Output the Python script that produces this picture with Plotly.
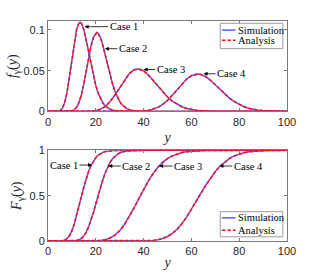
import plotly.graph_objects as go

# ---------------- data ----------------
cases = ["Case 1", "Case 2", "Case 3", "Case 4"]

pdf_x1 = [0, 3, 4, 5, 6, 7, 8, 9, 10, 11, 12, 13, 13.4, 14, 15, 16, 17, 18, 19, 20,
          21, 22, 23, 24, 25, 26, 27, 28, 30, 32, 35, 100]
pdf_y1 = [0, 0, 0.0001, 0.0009, 0.0037, 0.0108, 0.0239, 0.0428, 0.0647, 0.0857, 0.1011,
          0.1088, 0.1095, 0.1081, 0.1002, 0.0874, 0.0723, 0.0571, 0.0433, 0.0316, 0.0223,
          0.0153, 0.0101, 0.0066, 0.0042, 0.0026, 0.0016, 0.0009, 0.0003, 0.0001, 0, 0]

pdf_x2 = [0, 8, 9, 10, 11, 12, 13, 14, 15, 16, 17, 18, 19, 20, 20.4, 21, 22, 23, 24, 25,
          26, 27, 28, 29, 30, 31, 32, 33, 34, 35, 36, 38, 40, 44, 100]
pdf_y2 = [0, 0, 0.0002, 0.0007, 0.0021, 0.0053, 0.0112, 0.0208, 0.0339, 0.0497, 0.0660,
          0.0805, 0.0910, 0.0963, 0.0968, 0.0958, 0.0902, 0.0805, 0.0687, 0.0563, 0.0443,
          0.0336, 0.0247, 0.0175, 0.0121, 0.0081, 0.0053, 0.0034, 0.0021, 0.0013, 0.0008,
          0.0003, 0.0001, 0, 0]

pdf_x3 = [0, 14, 16, 18, 20, 22, 24, 26, 28, 30, 32, 34, 36, 37.6, 38, 40, 42, 44, 46, 48,
          50, 52, 54, 56, 58, 60, 62, 64, 66, 68, 70, 74, 80, 100]
pdf_y3 = [0, 0, 0.0001, 0.0003, 0.0010, 0.0028, 0.0063, 0.0121, 0.0201, 0.0294, 0.0388,
          0.0464, 0.0511, 0.0522, 0.0521, 0.0499, 0.0447, 0.0381, 0.0309, 0.0239, 0.0177,
          0.0126, 0.0087, 0.0058, 0.0037, 0.0023, 0.0014, 0.0009, 0.0005, 0.0003, 0.0002,
          0.0001, 0, 0]

pdf_x4 = [0, 34, 36, 38, 40, 42, 44, 46, 48, 50, 52, 54, 56, 58, 60, 62, 62.6, 64, 66, 68,
          70, 72, 74, 76, 78, 80, 82, 84, 86, 88, 90, 92, 94, 96, 98, 100]
pdf_y4 = [0, 0, 0.0001, 0.0002, 0.0005, 0.0012, 0.0026, 0.0049, 0.0086, 0.0135, 0.0198,
          0.0267, 0.0336, 0.0397, 0.0438, 0.0458, 0.0459, 0.0453, 0.0426, 0.0382, 0.0327,
          0.0269, 0.0213, 0.0161, 0.0119, 0.0084, 0.0058, 0.0038, 0.0025, 0.0015, 0.0010,
          0.0006, 0.0003, 0.0002, 0.0001, 0.0001]

cdf_x1 = [0, 4, 5, 6, 7, 8, 9, 10, 11, 12, 13, 14, 15, 16, 17, 18, 19, 20, 21, 22, 23, 24,
          25, 26, 27, 28, 30, 32, 35, 100]
cdf_y1 = [0, 0, 0.0006, 0.0028, 0.0100, 0.0272, 0.0604, 0.1137, 0.1884, 0.2811, 0.3853,
          0.4930, 0.5963, 0.6895, 0.7687, 0.8329, 0.8828, 0.9200, 0.9467, 0.9654, 0.9779,
          0.9863, 0.9917, 0.9950, 0.9971, 0.9984, 0.9996, 0.9999, 1.0, 1.0]

cdf_x2 = [0, 9, 10, 11, 12, 13, 14, 15, 16, 17, 18, 19, 20, 21, 22, 23, 24, 25, 26, 27, 28,
          29, 30, 31, 32, 33, 34, 35, 36, 38, 40, 44, 100]
cdf_y2 = [0, 0.0001, 0.0005, 0.0019, 0.0056, 0.0139, 0.0298, 0.0570, 0.0987, 0.1563,
          0.2293, 0.3148, 0.4081, 0.5038, 0.5965, 0.6815, 0.7558, 0.8181, 0.8682, 0.9070,
          0.9360, 0.9571, 0.9719, 0.9820, 0.9885, 0.9929, 0.9957, 0.9974, 0.9984, 0.9995,
          0.9999, 1.0, 1.0]

cdf_x3 = [0, 14, 16, 18, 20, 22, 24, 26, 28, 30, 32, 34, 36, 38, 40, 42, 44, 46, 48, 50,
          52, 54, 56, 58, 60, 62, 64, 66, 68, 70, 74, 80, 100]
cdf_y3 = [0, 0, 0.0001, 0.0005, 0.0018, 0.0056, 0.0146, 0.0330, 0.0650, 0.1143, 0.1822,
          0.2670, 0.3641, 0.4668, 0.5683, 0.6625, 0.7449, 0.8136, 0.8682, 0.9096, 0.9398,
          0.9610, 0.9754, 0.9849, 0.9908, 0.9945, 0.9968, 0.9982, 0.9990, 0.9995, 0.9999,
          1.0, 1.0]

cdf_x4 = [0, 34, 36, 38, 40, 42, 44, 46, 48, 50, 52, 54, 56, 58, 60, 62, 64, 66, 68, 70,
          72, 74, 76, 78, 80, 82, 84, 86, 88, 90, 92, 94, 96, 98, 100]
cdf_y4 = [0, 0, 0.0001, 0.0004, 0.0011, 0.0028, 0.0066, 0.0141, 0.0276, 0.0497, 0.0830,
          0.1295, 0.1898, 0.2630, 0.3464, 0.4360, 0.5270, 0.6149, 0.6956, 0.7665, 0.8261,
          0.8743, 0.9117, 0.9396, 0.9599, 0.9741, 0.9837, 0.9900, 0.9940, 0.9965, 0.9981,
          0.9990, 0.9995, 0.9998, 1.0]

# arrow tips of the "Case n" labels (data coordinates)
pdf_tip_x = [15.3, 23.8, 40.0, 65.1]
pdf_tip_y = [0.104, 0.077, 0.0514, 0.0462]
cdf_tip_x = [18.4, 25.2, 46.5, 71.7]
cdf_tip_y = [0.838, 0.827, 0.827, 0.827]

x_ticks = [0, 20, 40, 60, 80, 100]
pdf_ticks = [0, 0.05, 0.1]
pdf_tick_text = ["0", "0.05", "0.1"]
cdf_ticks = [0, 0.5, 1]
cdf_tick_text = ["0", "0.5", "1"]
legend_names = ["Simulation", "Analysis"]

# ---------------- figure ----------------
SIM_COLOR = "#5a5aff"
ANA_COLOR = "#ff0d0d"
AX_COLOR = "#7a7a7a"
TXT_COLOR = "#262626"
SERIF = "Liberation Serif"
SANS = "Liberation Sans"
LW = 1.5
DASH = "3.5px,2px"

pdf_sets = [(pdf_x1, pdf_y1), (pdf_x2, pdf_y2), (pdf_x3, pdf_y3), (pdf_x4, pdf_y4)]
cdf_sets = [(cdf_x1, cdf_y1), (cdf_x2, cdf_y2), (cdf_x3, cdf_y3), (cdf_x4, cdf_y4)]

fig = go.Figure()
for (xs, ys), name in zip(pdf_sets, cases):
    fig.add_trace(go.Scatter(x=xs, y=ys, mode="lines", xaxis="x", yaxis="y",
                             line=dict(color=SIM_COLOR, width=LW), showlegend=False,
                             name=legend_names[0] + " " + name))
for (xs, ys), name in zip(cdf_sets, cases):
    fig.add_trace(go.Scatter(x=xs, y=ys, mode="lines", xaxis="x2", yaxis="y2",
                             line=dict(color=SIM_COLOR, width=LW), showlegend=False,
                             name=legend_names[0] + " " + name))
for (xs, ys), name in zip(pdf_sets, cases):
    fig.add_trace(go.Scatter(x=xs, y=ys, mode="lines", xaxis="x", yaxis="y",
                             line=dict(color=ANA_COLOR, width=LW, dash=DASH),
                             showlegend=False, name=legend_names[1] + " " + name))
for (xs, ys), name in zip(cdf_sets, cases):
    fig.add_trace(go.Scatter(x=xs, y=ys, mode="lines", xaxis="x2", yaxis="y2",
                             line=dict(color=ANA_COLOR, width=LW, dash=DASH),
                             showlegend=False, name=legend_names[1] + " " + name))

axis_common = dict(showline=True, linecolor=AX_COLOR, linewidth=1, mirror="ticks",
                   ticks="inside", ticklen=3, tickwidth=1, tickcolor=AX_COLOR,
                   showgrid=False, zeroline=False,
                   tickfont=dict(family=SANS, size=11, color=TXT_COLOR))

fig.update_layout(
    width=316, height=279,
    margin=dict(l=41, r=29, t=21, b=33, pad=0),
    paper_bgcolor="white", plot_bgcolor="white",
    xaxis=dict(domain=[0, 1], anchor="y", range=[0, 100], tickvals=x_ticks,
               title=dict(text="<i>y</i>", font=dict(family=SERIF, size=14, color=TXT_COLOR),
                          standoff=5),
               **axis_common),
    yaxis=dict(domain=[0.589, 1], anchor="x", range=[0, 0.111], tickvals=pdf_ticks,
               ticktext=pdf_tick_text,
               title=dict(text="<i>f</i><sub>γ</sub>(<i>y</i>)",
                          font=dict(family=SERIF, size=14, color=TXT_COLOR), standoff=2),
               **axis_common),
    xaxis2=dict(domain=[0, 1], anchor="y2", range=[0, 100], tickvals=x_ticks,
                title=dict(text="<i>y</i>", font=dict(family=SERIF, size=14, color=TXT_COLOR),
                           standoff=0),
                **axis_common),
    yaxis2=dict(domain=[0, 0.412], anchor="x2", range=[0, 1], tickvals=cdf_ticks,
                ticktext=cdf_tick_text,
                title=dict(text="<i>F</i><sub>γ</sub>(<i>y</i>)",
                           font=dict(family=SERIF, size=14, color=TXT_COLOR), standoff=4),
                **axis_common),
)

# "Case n" arrow labels
pdf_offsets = [39, 28, 27, 28]
cdf_offsets = [-28, 28, 29, 29]
for i, name in enumerate(cases):
    fig.add_annotation(x=pdf_tip_x[i], y=pdf_tip_y[i], xref="x", yref="y", text=name,
                       showarrow=True, ax=pdf_offsets[i], ay=0, arrowhead=2, arrowsize=1,
                       arrowwidth=0.8, arrowcolor="black", standoff=0,
                       font=dict(family=SERIF, size=10.5, color="black"))
    fig.add_annotation(x=cdf_tip_x[i], y=cdf_tip_y[i], xref="x2", yref="y2", text=name,
                       showarrow=True, ax=cdf_offsets[i], ay=0, arrowhead=2, arrowsize=1,
                       arrowwidth=0.8, arrowcolor="black", standoff=0,
                       font=dict(family=SERIF, size=10.5, color="black"))

# legend boxes drawn by hand (MATLAB-style short samples)
def add_legend(y0, y1, y_sim, y_ana):
    fig.add_shape(type="rect", xref="paper", yref="paper", x0=0.7207, x1=0.9825,
                  y0=y0, y1=y1, line=dict(color="#9a9a9a", width=1), fillcolor="white",
                  layer="above")
    for yy, col, dash, label in [(y_sim, SIM_COLOR, "solid", legend_names[0]),
                                 (y_ana, ANA_COLOR, DASH, legend_names[1])]:
        fig.add_shape(type="line", xref="paper", yref="paper", x0=0.7276, x1=0.7846,
                      y0=yy, y1=yy, line=dict(color=col, width=LW, dash=dash),
                      layer="above")
        fig.add_annotation(x=0.7886, y=yy, xref="paper", yref="paper", text=label,
                           showarrow=False, xanchor="left", yanchor="middle",
                           font=dict(family=SERIF, size=10.5, color="black"))

add_legend(0.8742, 0.9898, 0.9587, 0.9124)
add_legend(0.0191, 0.1333, 0.1053, 0.0489)

fig.write_html("out.html", config={"displayModeBar": False},
               post_script="document.body.style.margin='0px';"
                           "document.body.style.overflow='hidden';")
